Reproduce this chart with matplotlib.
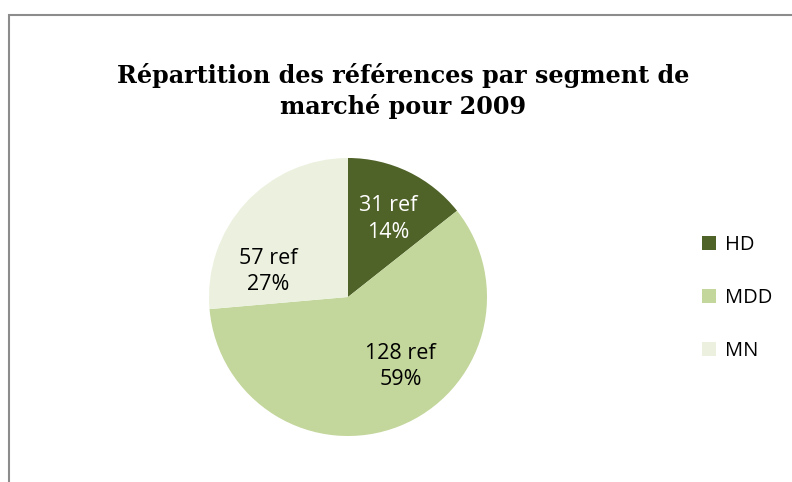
import matplotlib
matplotlib.use("Agg")
import numpy as np
import matplotlib.pyplot as plt
from matplotlib.patches import Rectangle

title = "Répartition des références par segment de\nmarché pour 2009"
segments = ["HD", "MDD", "MN"]
refs = [31, 128, 57]
pct_labels = ["14%", "59%", "27%"]
colors = ["#4F6228", "#C3D69B", "#EBF1DE"]
label_colors = ["white", "black", "black"]
# label placement (angle in degrees, distance as fraction of radius), Excel-like
label_pos = [(63, 0.63), (-53, 0.63), (162, 0.60)]

W, H = 792, 482
fig = plt.figure(figsize=(W / 100, H / 100), dpi=100)

# chart border (gray, partly clipped by the image edges like the original)
fig.patches.append(Rectangle((8.5 / W, -0.1), 1.2, 1 - 14.5 / H + 0.1,
                             transform=fig.transFigure, fill=False,
                             edgecolor="#8c8c8c", lw=1.5))

fig.text(403 / W, 1 - 91 / H, title, ha="center", va="center",
         fontsize=17.2, fontweight="bold", family="DejaVu Serif",
         linespacing=1.32, color="black")

# pie axes: center (348, 297) px, radius 139 px
cx, cy, r = 348, 297, 139
ax = fig.add_axes([(cx - r) / W, 1 - (cy + r) / H, 2 * r / W, 2 * r / H])
wedges, _ = ax.pie(refs, colors=colors, startangle=90, counterclock=False,
                   radius=1)
for n, p, c, (ang, d) in zip(refs, pct_labels, label_colors, label_pos):
    a = np.radians(ang)
    ax.text(d * np.cos(a), d * np.sin(a), "%d ref\n%s" % (n, p), color=c,
            ha="center", va="center", fontsize=15.5, family="Open Sans",
            linespacing=1.32)
ax.set_xlim(-1, 1)
ax.set_ylim(-1, 1)
ax.set_aspect("auto")
ax.axis("off")

leg = fig.legend(wedges, segments, loc="center left",
                 bbox_to_anchor=(684 / W, 1 - 298 / H), frameon=False,
                 prop=dict(family="Open Sans", size=14.5),
                 handlelength=0.7, handleheight=0.7, handletextpad=0.45,
                 labelspacing=1.62)

fig.savefig("out.png", dpi=100, facecolor="white")
